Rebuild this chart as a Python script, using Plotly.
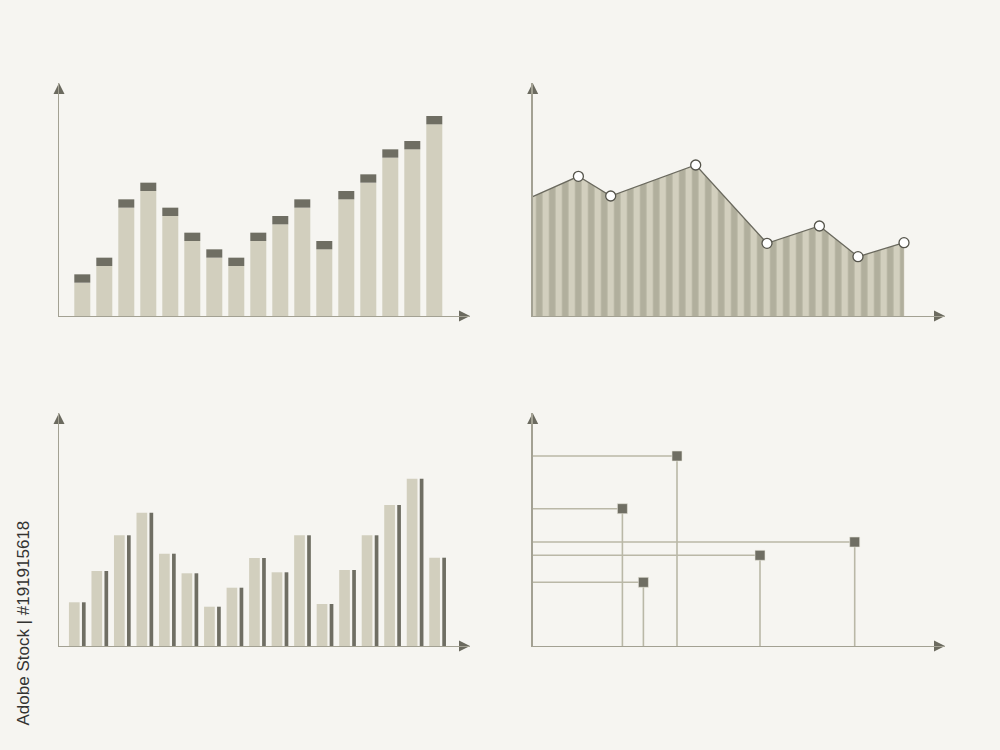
import plotly.graph_objects as go

# ---------------- data ----------------
# Panel 1: capped bars (value in units, cap = top unit)
p1_values = [5, 7, 14, 16, 13, 10, 8, 7, 10, 12, 14, 9, 15, 17, 20, 21, 24]
p1_cap = 1

# Panel 2: striped area with circle markers
p2_x = [0, 45.7, 78, 163, 234.3, 286.7, 325.3, 371.3]
p2_y = [119.3, 139.7, 120, 151, 72.7, 90, 59.3, 73.3]

# Panel 3: paired bars (wide light + thin dark)
p3_values = [43.7, 75, 110.7, 133.3, 92.3, 72.7, 39.3, 58.3, 88, 73.7,
             110.7, 42, 76, 110.7, 141, 167.3, 88.3]

# Panel 4: points with drop lines to both axes
p4_x = [89.7, 110.7, 144.3, 227.3, 322]
p4_y = [137.3, 63.7, 190, 90.7, 104]

# ---------------- style ----------------
BG = "#f6f5f1"
LIGHT = "#d2cfbe"
STRIPE = "#b1af9d"
DARK = "#6f6e63"
AXIS = "#a3a193"
HEAD = "#6b6a5f"
DROP = "#bab8a7"

W, H = 1000, 750


def dom_x(a, b):
    return [a / W, b / W]


def dom_y(top, bottom):
    return [1 - bottom / H, 1 - top / H]


fig = go.Figure()

# ---- panel 1 ----
idx1 = list(range(len(p1_values)))
fig.add_trace(go.Bar(x=idx1, y=[v - p1_cap for v in p1_values], base=0,
                     width=0.727, marker=dict(color=LIGHT, line=dict(width=0)),
                     xaxis="x", yaxis="y", hoverinfo="skip"))
fig.add_trace(go.Bar(x=idx1, y=[p1_cap] * len(p1_values),
                     base=[v - p1_cap for v in p1_values],
                     width=0.727, marker=dict(color=DARK, line=dict(width=0)),
                     xaxis="x", yaxis="y", hoverinfo="skip"))

# ---- panel 2 ----
fig.add_trace(go.Scatter(x=p2_x, y=p2_y, mode="lines", fill="tozeroy",
                         line=dict(color=HEAD, width=1.3),
                         fillcolor=LIGHT,
                         fillpattern=dict(shape="|", size=13, solidity=0.5,
                                          fgcolor=STRIPE, bgcolor=LIGHT,
                                          fillmode="replace"),
                         xaxis="x2", yaxis="y2", hoverinfo="skip"))
fig.add_trace(go.Scatter(x=[p2_x[-1], p2_x[-1]], y=[0, p2_y[-1]], mode="lines",
                         line=dict(color=LIGHT, width=0.5),
                         xaxis="x2", yaxis="y2", hoverinfo="skip"))
fig.add_trace(go.Scatter(x=p2_x[1:], y=p2_y[1:], mode="markers",
                         marker=dict(size=10, color="white",
                                     line=dict(color="#55544b", width=1.3)),
                         cliponaxis=False,
                         xaxis="x2", yaxis="y2", hoverinfo="skip"))

# ---- panel 3 ----
idx3 = list(range(len(p3_values)))
fig.add_trace(go.Bar(x=idx3, y=p3_values, width=0.475, offset=-0.2375,
                     marker=dict(color=LIGHT, line=dict(width=0)),
                     xaxis="x3", yaxis="y3", hoverinfo="skip"))
fig.add_trace(go.Bar(x=idx3, y=p3_values, width=0.164, offset=0.340,
                     marker=dict(color=DARK, line=dict(width=0)),
                     xaxis="x3", yaxis="y3", hoverinfo="skip"))

# ---- panel 4 ----
for xv, yv in zip(p4_x, p4_y):
    fig.add_trace(go.Scatter(x=[0, xv, xv], y=[yv, yv, 0], mode="lines",
                             line=dict(color=DROP, width=1.6),
                             xaxis="x4", yaxis="y4", hoverinfo="skip"))
fig.add_trace(go.Scatter(x=p4_x, y=p4_y, mode="markers",
                         marker=dict(symbol="square", size=10, color=DARK,
                                     line=dict(color="#e8e6dc", width=0.6)),
                         cliponaxis=False,
                         xaxis="x4", yaxis="y4", hoverinfo="skip"))

# ---------------- axes ----------------
panels = {
    "1": dict(dx=dom_x(59, 470), dy=dom_y(83, 316), xr=[-1.059, 17.623], yr=[0, 27.96]),
    "2": dict(dx=dom_x(532.7, 945), dy=dom_y(83, 316), xr=[0, 412.3], yr=[0, 233]),
    "3": dict(dx=dom_x(59, 470), dy=dom_y(413, 646), xr=[-0.679, 17.571], yr=[0, 233]),
    "4": dict(dx=dom_x(532.7, 945), dy=dom_y(413, 646), xr=[0, 412.3], yr=[0, 233]),
}

layout_axes = {}
for k, p in panels.items():
    xa = "xaxis" if k == "1" else "xaxis" + k
    ya = "yaxis" if k == "1" else "yaxis" + k
    xref = "x" if k == "1" else "x" + k
    yref = "y" if k == "1" else "y" + k
    common = dict(showgrid=False, zeroline=False, showticklabels=False,
                  ticks="", showline=True, linecolor=AXIS, linewidth=1.3,
                  fixedrange=True)
    layout_axes[xa] = dict(domain=p["dx"], range=p["xr"], anchor=yref, **common)
    layout_axes[ya] = dict(domain=p["dy"], range=p["yr"], anchor=xref, **common)
    # arrowheads at the axis ends
    fig.add_trace(go.Scatter(x=[p["xr"][0]], y=[p["yr"][1]], mode="markers",
                             marker=dict(symbol="arrow-up", size=11, color=HEAD,
                                         line=dict(width=0)),
                             cliponaxis=False, xaxis=xref, yaxis=yref,
                             hoverinfo="skip"))
    fig.add_trace(go.Scatter(x=[p["xr"][1]], y=[p["yr"][0]], mode="markers",
                             marker=dict(symbol="arrow-right", size=11, color=HEAD,
                                         line=dict(width=0)),
                             cliponaxis=False, xaxis=xref, yaxis=yref,
                             hoverinfo="skip"))

fig.update_layout(
    width=W, height=H, autosize=False,
    margin=dict(l=0, r=0, t=0, b=0),
    paper_bgcolor=BG, plot_bgcolor="rgba(0,0,0,0)",
    showlegend=False, barmode="overlay",
    **layout_axes,
)

fig.add_annotation(text="Adobe Stock | #191915618", textangle=-90,
                   x=23 / W, y=1 - 519 / H, xref="paper", yref="paper",
                   xanchor="center", yanchor="top", showarrow=False,
                   font=dict(family="Liberation Sans Narrow, Liberation Sans, sans-serif",
                             size=17, color="#333331"))

fig.write_html("out.html",
               config={"displayModeBar": False, "staticPlot": True},
               post_script="document.body.style.margin='0';"
                           "document.body.style.background='#f6f5f1';")
